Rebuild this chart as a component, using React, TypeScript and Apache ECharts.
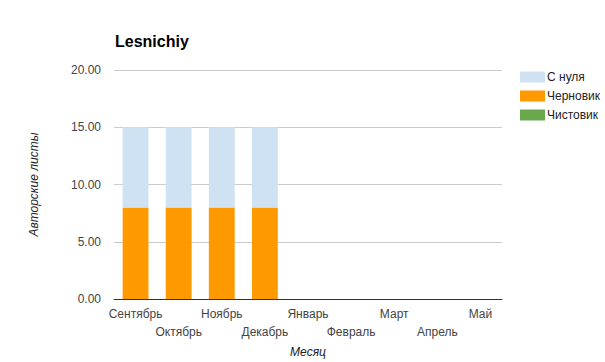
import React, { useEffect, useRef } from "react";
import * as echarts from "echarts";

const months = ["Сентябрь", "Октябрь", "Ноябрь", "Декабрь", "Январь", "Февраль", "Март", "Апрель", "Май"];
const fromScratch = [7, 7, 7, 7, 0, 0, 0, 0, 0];
const draft = [8, 8, 8, 8, 0, 0, 0, 0, 0];
const clean = [0, 0, 0, 0, 0, 0, 0, 0, 0];
const legendOrder = ["С нуля", "Черновик", "Чистовик"];

const FONT = "'Liberation Sans', Arial, sans-serif";

export default function App() {
  const ref = useRef<HTMLDivElement>(null);
  useEffect(() => {
    if (!ref.current) return;
    const chart = echarts.init(ref.current, undefined, { renderer: "svg" });
    chart.setOption({
      animation: false,
      textStyle: { fontFamily: FONT },
      title: {
        text: "Lesnichiy",
        left: 110,
        top: 28,
        textStyle: { fontSize: 16, fontWeight: "bold", color: "#000", fontFamily: FONT },
      },
      legend: {
        orient: "vertical",
        left: 515,
        top: 66,
        itemWidth: 25,
        itemHeight: 11,
        itemGap: 7,
        icon: "rect",
        data: legendOrder,
        textStyle: { fontSize: 12, color: "#222", fontFamily: FONT, padding: [0, 0, 0, -3] },
      },
      grid: { left: 114, right: 103, top: 70, bottom: 63, outerBoundsMode: "none", containLabel: false },
      xAxis: {
        type: "category",
        data: months,
        name: "Месяц",
        nameLocation: "middle",
        nameGap: 47,
        nameTextStyle: { fontStyle: "italic", fontSize: 12, color: "#222", fontFamily: FONT },
        axisLine: { lineStyle: { color: "#333" } },
        axisTick: { show: false },
        axisLabel: {
          interval: 0,
          hideOverlap: false,
          fontSize: 12,
          color: "#444",
          margin: 6,
          lineHeight: 18,
          fontFamily: FONT,
          formatter: (v: string, i: number) => (i % 2 === 1 ? "\n" + v : v),
        },
      },
      yAxis: {
        type: "value",
        min: 0,
        max: 20,
        interval: 5,
        name: "Авторские листы",
        nameLocation: "middle",
        nameGap: 74,
        nameTextStyle: { fontStyle: "italic", fontSize: 12, color: "#222", fontFamily: FONT },
        axisLine: { show: false },
        axisTick: { show: false },
        splitLine: { lineStyle: { color: "#ccc" } },
        axisLabel: {
          fontSize: 12,
          color: "#444",
          margin: 13,
          fontFamily: FONT,
          formatter: (v: number) => v.toFixed(2),
        },
      },
      series: [
        { name: "Чистовик", type: "bar", stack: "s", data: clean, barWidth: "60%", itemStyle: { color: "#6aa84f" } },
        { name: "Черновик", type: "bar", stack: "s", data: draft, barWidth: "60%", itemStyle: { color: "#ff9900" } },
        { name: "С нуля", type: "bar", stack: "s", data: fromScratch, barWidth: "60%", itemStyle: { color: "#cfe2f3" } },
      ],
    });
    return () => chart.dispose();
  }, []);
  return <div ref={ref} style={{ width: 605, height: 362, position: "absolute", left: 0, top: 0 }} />;
}
